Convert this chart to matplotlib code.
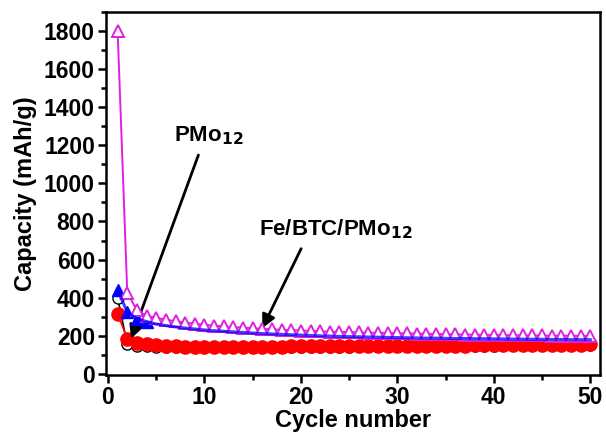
import numpy as np
import matplotlib
matplotlib.use("Agg")
import matplotlib.pyplot as plt
from matplotlib.ticker import MultipleLocator

plt.rcParams['font.family'] = ['Liberation Sans', 'DejaVu Sans']
plt.rcParams['font.weight'] = 'bold'
plt.rcParams['mathtext.default'] = 'bf'

cycles = list(range(1, 51))

# Fe/BTC/PMo12 (open magenta triangles)
fe_open = [1800, 425, 335, 305, 295, 285, 277, 270, 264, 258,
           254, 250, 246, 243, 240, 237, 234, 232, 230, 228,
           226, 224, 222, 221, 220, 218, 217, 216, 215, 214,
           213, 212, 211, 210, 209, 208, 207, 206, 205, 205,
           204, 203, 203, 202, 202, 201, 201, 200, 200, 199]
# Fe/BTC/PMo12 (filled blue triangles)
fe_fill = [440, 325, 290, 275, 262, 254, 247, 241, 236, 231,
           227, 224, 221, 218, 215, 212, 210, 208, 206, 204,
           202, 200, 199, 197, 196, 195, 194, 193, 192, 191,
           190, 189, 188, 188, 187, 186, 186, 185, 185, 184,
           184, 183, 183, 182, 182, 181, 181, 180, 180, 180]
# PMo12 (open black circles)
pmo_open = [400, 155, 148, 145, 143, 142, 141, 140, 140, 140,
            140, 140, 140, 141, 141, 141, 142, 142, 142, 143,
            143, 143, 144, 144, 144, 145, 145, 145, 146, 146,
            146, 147, 147, 147, 148, 148, 148, 149, 149, 149,
            150, 150, 150, 151, 151, 151, 152, 152, 152, 153]
# PMo12 (filled red circles)
pmo_fill = [315, 185, 165, 155, 150, 147, 145, 144, 143, 143,
            143, 143, 143, 143, 144, 144, 144, 144, 145, 145,
            145, 145, 146, 146, 146, 146, 147, 147, 147, 147,
            148, 148, 148, 148, 149, 149, 149, 150, 150, 150,
            151, 151, 151, 152, 152, 152, 153, 153, 154, 155]

fig, ax = plt.subplots(figsize=(6.06, 4.38), dpi=100)
fig.subplots_adjust(left=0.175, right=0.99, bottom=0.144, top=0.973)

ax.plot(cycles, pmo_open, '-o', color='black', mfc='white', mec='black',
        ms=8, lw=1.2, zorder=2)
ax.plot(cycles, pmo_fill, '-o', color='red', mfc='red', mec='red',
        ms=9.5, lw=1.2, zorder=3)
ax.plot(cycles[:4], fe_fill[:4], '^', color='blue', ms=8.5, zorder=3.5)
ax.plot(cycles, fe_open, '-^', color='#e020e0', mfc='white', mec='#e020e0',
        ms=9, mew=1.4, lw=1.4, zorder=4)
ax.plot(cycles, fe_fill, '-', color='blue', lw=2.2, alpha=0.75, zorder=5)

ax.set_xlim(-0.2, 51)
ax.set_ylim(-5, 1900)
ax.xaxis.set_major_locator(MultipleLocator(10))
ax.xaxis.set_minor_locator(MultipleLocator(5))
ax.yaxis.set_major_locator(MultipleLocator(200))
ax.yaxis.set_minor_locator(MultipleLocator(100))
ax.tick_params(which='major', direction='out', length=6, width=1.8,
               labelsize=16.5, pad=2)
ax.tick_params(which='minor', direction='out', length=3.5, width=1.8)
for s in ax.spines.values():
    s.set_linewidth(1.8)

ax.set_xlabel('Cycle number', fontsize=17, fontweight='bold', labelpad=0)
ax.set_ylabel('Capacity (mAh/g)', fontsize=17, fontweight='bold', labelpad=5)

ax.annotate('PMo$_{12}$', xy=(2.4, 185), xytext=(10.4, 1250),
            fontsize=16, fontweight='bold', ha='center', va='center',
            arrowprops=dict(arrowstyle='-|>', color='black', lw=2,
                            mutation_scale=20, shrinkA=4, shrinkB=0,
                            relpos=(0.4, 0)))
ax.annotate('Fe/BTC/PMo$_{12}$', xy=(16, 240), xytext=(23.6, 760),
            fontsize=16, fontweight='bold', ha='center', va='center',
            arrowprops=dict(arrowstyle='-|>', color='black', lw=2,
                            mutation_scale=20, shrinkA=4, shrinkB=0,
                            relpos=(0.3, 0)))

plt.savefig('out.png', dpi=100)
